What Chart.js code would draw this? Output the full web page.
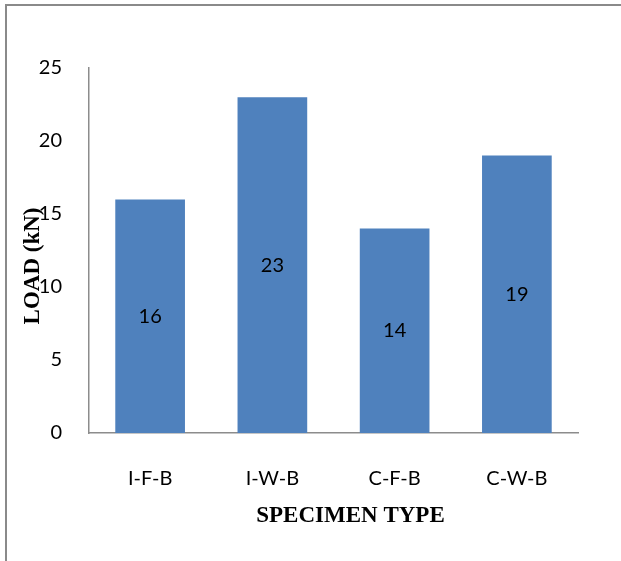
<!DOCTYPE html>
<html>
<head>
<meta charset="utf-8">
<script src="https://cdn.jsdelivr.net/npm/chart.js@4/dist/chart.umd.min.js"></script>
<style>
  html, body { margin: 0; padding: 0; background: #fff; }
  #wrap { position: relative; width: 621px; height: 561px; overflow: hidden; }
  #frame { position: absolute; left: 5px; top: 4px; width: 700px; height: 700px;
           border-top: 2px solid #8a8a8a; border-left: 2px solid #8a8a8a; pointer-events: none; }
  canvas { position: absolute; left: 0; top: 0; }
</style>
</head>
<body>
<div id="wrap">
  <canvas id="c" width="621" height="561"></canvas>
  <div id="frame"></div>
</div>
<script>
// Failure load per specimen type
const specimenTypes = ['I-F-B', 'I-W-B', 'C-F-B', 'C-W-B'];
const loadValues = [16, 23, 14, 19];
const yTicks = [0, 5, 10, 15, 20, 25];

const tickFont = { family: 'Lato, "Open Sans", sans-serif', size: 20 };
const titleFont = 'bold 23px "Liberation Serif", "Times New Roman", serif';

// Value labels centred inside each bar, plus the two axis titles
const annotate = {
  id: 'annotate',
  afterDatasetsDraw(chart) {
    const ctx = chart.ctx;
    const meta = chart.getDatasetMeta(0);
    ctx.save();
    ctx.fillStyle = '#000';
    ctx.font = tickFont.size + 'px ' + tickFont.family;
    ctx.textAlign = 'center';
    ctx.textBaseline = 'middle';
    meta.data.forEach((bar, i) => {
      const cy = (bar.y + bar.base) / 2;
      ctx.fillText(String(loadValues[i]), bar.x, cy);
    });
    ctx.restore();
  },
  afterDraw(chart) {
    const ctx = chart.ctx;
    const area = chart.chartArea;
    ctx.save();
    ctx.fillStyle = '#000';
    ctx.font = titleFont;
    ctx.textAlign = 'center';
    ctx.textBaseline = 'middle';
    ctx.fillText('SPECIMEN TYPE', (area.left + area.right) / 2 + 17, 516);
    ctx.translate(33, 266);
    ctx.rotate(-Math.PI / 2);
    ctx.fillText('LOAD (kN)', 0, 0);
    ctx.restore();
  }
};

new Chart(document.getElementById('c'), {
  type: 'bar',
  data: {
    labels: specimenTypes,
    datasets: [{
      data: loadValues,
      backgroundColor: '#4f81bd',
      borderWidth: 0,
      barPercentage: 0.57,
      categoryPercentage: 1.0
    }]
  },
  options: {
    responsive: false,
    animation: false,
    events: [],
    layout: { padding: { top: 68, right: 43, left: 0, bottom: 0 } },
    plugins: { legend: { display: false }, tooltip: { enabled: false } },
    scales: {
      x: {
        grid: { display: false, drawTicks: false },
        border: { display: true, color: '#8c8c8c', width: 1.5 },
        ticks: { color: '#000', font: tickFont, padding: 34, maxRotation: 0 },
        afterFit(scale) { scale.height = 561 - 433; }
      },
      y: {
        min: 0, max: 25,
        grid: { display: false, drawTicks: false },
        border: { display: true, color: '#8c8c8c', width: 1.5 },
        afterBuildTicks(scale) { scale.ticks = yTicks.map(v => ({ value: v })); },
        ticks: { color: '#000', font: tickFont, padding: 27 },
        afterFit(scale) { scale.width = 89; }
      }
    }
  },
  plugins: [annotate]
});
</script>
</body>
</html>
